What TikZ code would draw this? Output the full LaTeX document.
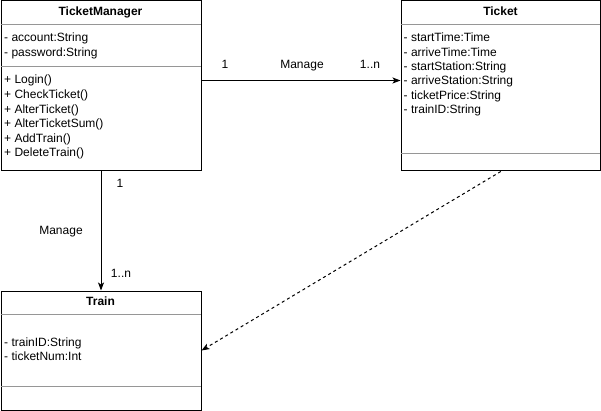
\documentclass[tikz,border=0pt]{standalone}
\usepackage{fontspec}
\setmainfont{Liberation Sans}
\usetikzlibrary{arrows.meta}
\definecolor{sepgray}{RGB}{150,150,150}
\begin{document}
\begin{tikzpicture}[x=1pt,y=-1pt,
  font=\fontsize{12}{14}\selectfont,
  classbox/.style={draw=black,line width=1pt,minimum width=200pt,inner sep=0pt,anchor=north west},
  sepline/.style={draw=sepgray,line width=1pt},
  title/.style={font=\fontsize{12}{14}\selectfont\bfseries,anchor=base,inner sep=0pt},
  member/.style={anchor=base west,inner sep=0pt},
  lbl/.style={anchor=base,inner sep=0pt},
  assoc/.style={draw=black,line width=1pt,-{Stealth[length=8pt,width=6pt,inset=2pt]}},
  dep/.style={draw=black,line width=1pt,dash pattern=on 3pt off 3pt,-{Stealth[length=8pt,width=6pt,inset=2pt]}}
]
\useasboundingbox (0,0) rectangle (601,411);

% TicketManager
\node[classbox,minimum height=170pt] (tm) at (0.5,0.5) {};
\node[title] (tmt) at (100.5,16) {TicketManager};
\draw[sepline] (0.5,24.5) -- (200.5,24.5);
\draw[sepline] (0.5,66.5) -- (200.5,66.5);
\node[member] (tma1) at (4,42) {- account:String};
\node[member] (tma2) at (4,56.5) {- password:String};
\node[member] (tmm1) at (4,84) {+ Login()};
\node[member] (tmm2) at (4,98.6) {+ CheckTicket()};
\node[member] (tmm3) at (4,113.2) {+ AlterTicket()};
\node[member] (tmm4) at (4,127.8) {+ AlterTicketSum()};
\node[member] (tmm5) at (4,142.4) {+ AddTrain()};
\node[member] (tmm6) at (4,157) {+ DeleteTrain()};

% Ticket
\node[classbox,minimum height=170pt,minimum width=199.5pt] (tk) at (400.5,0.5) {};
\node[title] (tkt) at (500.5,16) {Ticket};
\draw[sepline] (400.5,24.5) -- (600,24.5);
\draw[sepline] (400.5,153.5) -- (600,153.5);
\node[member] (tka1) at (403.5,42) {- startTime:Time};
\node[member] (tka2) at (403.5,56.3) {- arriveTime:Time};
\node[member] (tka3) at (403.5,70.6) {- startStation:String};
\node[member] (tka4) at (403.5,84.9) {- arriveStation:String};
\node[member] (tka5) at (403.5,99.2) {- ticketPrice:String};
\node[member] (tka6) at (403.5,113.5) {- trainID:String};

% Train
\node[classbox,minimum height=119pt] (tr) at (0.5,290.5) {};
\node[title] (trt) at (100.5,305) {Train};
\draw[sepline] (0.5,314.5) -- (200.5,314.5);
\draw[sepline] (0.5,386.5) -- (200.5,386.5);
\node[member] (tra1) at (4,346.7) {- trainID:String};
\node[member] (tra2) at (4,360.7) {- ticketNum:Int};

% connectors
\draw[assoc] (tm.north east |- 0,80.5) -- (tk.north west |- 0,80.5);
\draw[assoc] (tm.south) -- (tr.north);
\draw[dep] (tk.south) -- (tr.east);

% labels
\node[lbl] (l1) at (225,69) {1};
\node[lbl] (l2) at (302,69) {Manage};
\node[lbl] (l3) at (370,69) {1..n};
\node[lbl] (l4) at (120,188) {1};
\node[lbl] (l5) at (61,234) {Manage};
\node[lbl] (l6) at (121,277) {1..n};
\end{tikzpicture}
\end{document}
